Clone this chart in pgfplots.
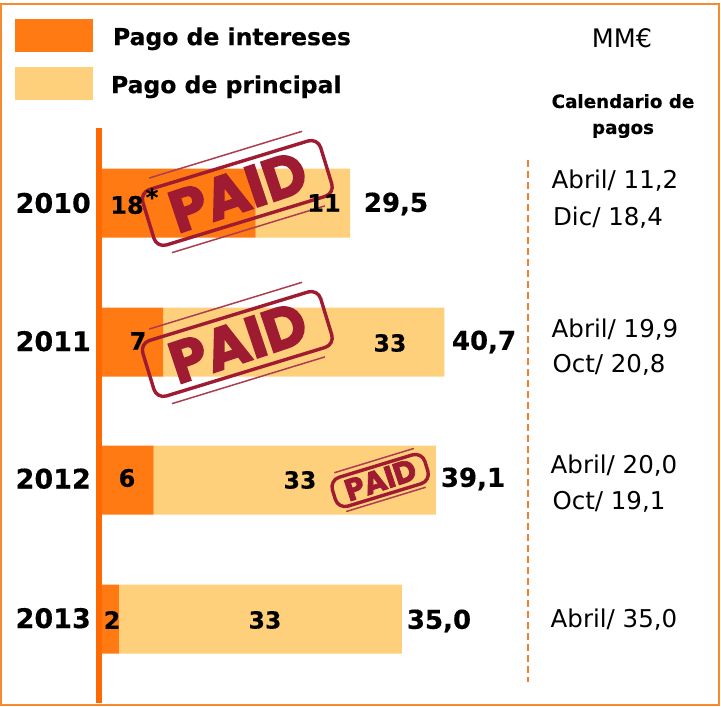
\documentclass[border=0pt]{standalone}
\usepackage{pgfplots}
\pgfplotsset{compat=1.18}
\usepackage{fontspec}
\setmainfont{DejaVu Sans}[BoldFeatures={FakeBold=0.4}]
\newfontfamily\stampfont{Poppins}[BoldFeatures={FakeBold=2.5}]
\definecolor{oS}{HTML}{FF7A12}
\definecolor{oL}{HTML}{FFD07C}
\definecolor{oA}{HTML}{FF6A00}
\definecolor{oF}{HTML}{F58A2E}
\definecolor{oD}{HTML}{F08030}
\definecolor{stamp}{HTML}{9E1B32}
\newcommand\stampmark[3]{%
  \begin{scope}[shift={(#1pt-99pt,703pt-#2pt)},rotate=17,scale=#3,transform shape,x=1pt,y=1pt]
    \draw[stamp,line width=3.4pt,rounded corners=10pt] (-93,-30) rectangle (93,28);
    \draw[stamp!85,line width=1.5pt] (-80,39) -- (80,39);
    \draw[stamp!85,line width=1.5pt] (-80,-39) -- (80,-39);
    \node[stamp,rotate=1.5,font={\stampfont\bfseries\fontsize{59}{60}\selectfont},inner sep=0pt] at (1,0) {PAID};
  \end{scope}}
\begin{document}
\begin{tikzpicture}
\path (-99pt,-4pt) rectangle (622pt,703pt);
\begin{axis}[
  at={(0pt,0pt)},anchor=south west,
  scale only axis,width=521pt,height=575pt,
  xmin=-0.235,xmax=61.06,ymin=128,ymax=703,y dir=reverse,
  axis y line=left,axis x line=none,
  y axis line style={-,oA,line width=5.5pt},
  axis on top,
  xbar stacked,bar width=69pt,
  ytick={203,342,480,619},
  yticklabels={\raisebox{-2pt}{2010},\raisebox{2pt}{2011},\raisebox{3pt}{2012},\raisebox{2pt}{2013}},
  major tick length=0pt,
  yticklabel style={font=\bfseries\fontsize{27}{27}\selectfont,text=black,inner sep=0pt,xshift=-8pt},
  clip=false,
  legend cell align=left,
  legend style={at={(-0.1612,1.1896)},anchor=north west,draw=none,fill=none,inner sep=0pt,outer sep=0pt,
    font=\bfseries\fontsize{23.5}{26}\selectfont,row sep=15pt,
    /tikz/every even column/.append style={column sep=0pt}},
  legend image code/.code={\fill[draw=none,#1] (0pt,-16.5pt) rectangle (78pt,16.5pt);},
]
\addplot[fill=oS,draw=none] coordinates {(18.2,203) (7.3,342) (6.2,480) (2.1,619)};
\addplot[fill=oL,draw=none] coordinates {(11.1,203) (33.1,342) (33.2,480) (33.3,619)};
\legend{\hspace{18pt}\raisebox{-3pt}{Pago de intereses},\hspace{16pt}\raisebox{-3pt}{Pago de principal}}
\end{axis}
\stampmark{237}{192}{1}
\stampmark{237}{343}{1}
\stampmark{380}{480}{0.52}
\begin{scope}[x=1pt,y=-1pt,shift={(-99pt,703pt)}]
  \draw[oF,line width=1.6pt] (1,4) rectangle (719,705);
  \draw[oD,line width=1.6pt,dash pattern=on 7pt off 4pt] (528,160) -- (528,682);
  \tikzset{b/.style={font=\bfseries\fontsize{24}{24}\selectfont,inner sep=0pt},
           c/.style={font=\bfseries\fontsize{23.5}{24}\selectfont,inner sep=0pt},
           t/.style={font=\bfseries\fontsize{26}{26}\selectfont,inner sep=0pt},
           r/.style={font=\fontsize{24.5}{25}\selectfont,inner sep=0pt}}
  \node[b] at (127,205) {18};
  \node[b] at (152,197) {*};
  \node[b] at (324,203) {11};
  \node[b] at (138,341) {7};
  \node[c] at (390,343) {33};
  \node[b] at (127,478) {6};
  \node[c] at (300,480) {33};
  \node[b] at (112,620) {2};
  \node[c] at (265,620) {33};
  \node[t] at (396,204) {29,5};
  \node[t] at (484,342) {40,7};
  \node[t] at (473,479) {39,1};
  \node[t] at (439,621) {35,0};
  \node[r] at (615,181) {Abril/ 11,2};
  \node[r] at (608,218) {Dic/ 18,4};
  \node[r] at (615,330) {Abril/ 19,9};
  \node[r] at (609,365) {Oct/ 20,8};
  \node[r] at (614,466) {Abril/ 20,0};
  \node[r] at (609,502) {Oct/ 19,1};
  \node[r] at (614,620) {Abril/ 35,0};
  \node[font=\fontsize{25.5}{26}\selectfont,inner sep=0pt] at (622,38) {MM€};
  \node[font=\bfseries\fontsize{18.3}{26}\selectfont,align=center,inner sep=0pt] at (623,116) {Calendario de\\pagos};
\end{scope}
\end{tikzpicture}
\end{document}
